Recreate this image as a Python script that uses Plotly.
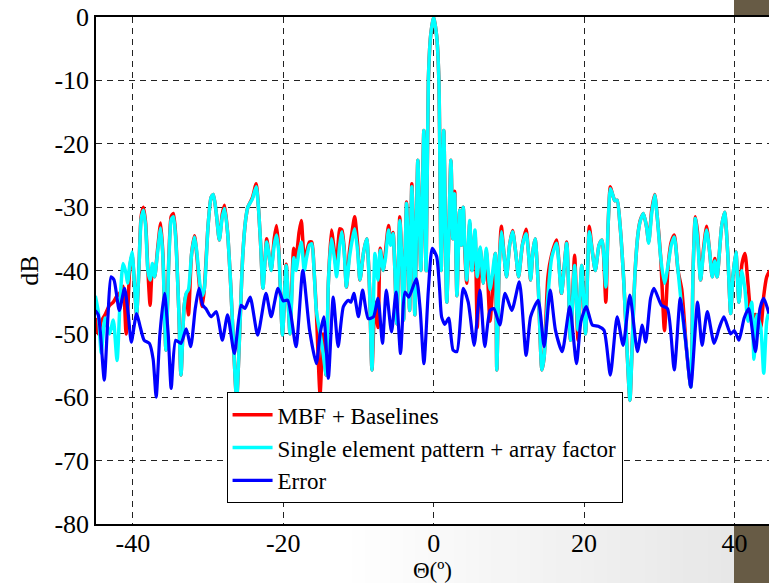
import plotly.graph_objects as go

# ---------------- data ----------------
theta_sp = [-45.0, -44.6, -44.2, -43.7, -43.1, -42.6, -42.1, -41.7, -41.3, -40.9, -40.7, -40.4, -40.1,
            -39.8, -39.5, -39.2, -38.9, -38.6, -38.3, -38.0, -37.7, -37.4, -37.1, -36.7, -36.3, -36.0,
            -35.6, -35.2, -34.9, -34.6, -34.3, -33.9, -33.6, -33.2, -32.9, -32.6, -32.2, -31.8, -31.5,
            -31.1, -30.8, -30.5, -30.0, -29.6, -29.3, -28.9, -28.5, -28.1, -27.8, -27.4, -27.0, -26.6,
            -26.2, -25.8, -25.4, -25.0, -24.7, -24.1, -23.6, -23.3, -23.0, -22.7, -22.2, -21.9, -21.6,
            -21.2, -20.9, -20.6, -20.1, -19.6, -19.1, -18.6, -18.3, -17.9, -17.6, -17.2, -16.9, -16.5,
            -16.2, -15.9, -15.6, -15.1, -14.7, -14.3, -14.0, -13.6, -13.2, -12.9, -12.5, -12.2, -11.9,
            -11.6, -11.2, -10.8, -10.5, -10.1, -9.8, -9.3, -8.9, -8.55, -8.2, -7.8, -7.4, -7.1, -6.7,
            -6.4, -6.0, -5.7, -5.4, -5.15, -4.9, -4.5, -4.25, -4.0, -3.6, -3.4, -3.2, -2.9, -2.7, -2.5,
            -2.1, -1.7, -1.3, -1.0, -0.7, -0.4, 0.0, 0.4, 0.7, 1.0, 1.35, 1.75, 2.3, 2.55, 2.8, 3.1,
            3.45, 3.7, 3.94, 4.15, 4.4, 4.8, 5.1, 5.5, 5.8, 6.2, 6.6, 7.0, 7.5, 8.2, 8.4, 8.7, 9.0, 9.4,
            9.7, 10.1, 10.5, 10.9, 11.3, 11.8, 12.3, 12.6, 12.9, 13.2, 13.5, 13.9, 14.4, 14.7, 15.2,
            15.7, 16.35, 17.0, 17.7, 18.2, 18.75, 19.2, 19.7, 20.2, 20.7, 21.1, 21.5, 22.0, 22.4, 22.9,
            23.2, 23.5, 23.8, 24.1, 24.4, 24.8, 25.3, 25.7, 26.1, 26.4, 26.8, 27.2, 27.5, 27.9, 28.3,
            28.6, 29.0, 29.4, 29.7, 30.2, 30.7, 31.2, 31.6, 32.0, 32.5, 33.0, 33.6, 34.2, 34.5, 34.8,
            35.1, 35.5, 35.9, 36.3, 36.7, 37.05, 37.4, 37.7, 38.3, 38.7, 39.1, 39.5, 39.8, 40.2, 40.6,
            41.0, 41.4, 41.8, 42.3, 42.6, 43.0, 43.5, 43.9, 44.3, 44.7]

single_element = [-44.0, -46.5, -53.0, -47.5, -50.0, -47.8, -54.2, -45.0, -38.9, -40.5, -42.0, -39.0, -37.1,
                  -42.0, -47.0, -40.0, -32.0, -30.5, -33.0, -40.0, -41.5, -38.9, -41.0, -37.0, -33.3, -38.0,
                  -52.6, -38.0, -32.0, -31.5, -35.0, -46.0, -56.5, -46.0, -43.6, -43.0, -37.5, -34.7, -37.0,
                  -42.0, -44.0, -43.0, -33.0, -28.5, -28.0, -31.0, -35.2, -31.5, -30.2, -34.0, -42.0, -52.0,
                  -60.5, -50.0, -38.0, -32.0, -30.0, -28.7, -26.8, -30.0, -36.0, -42.8, -35.5, -37.5, -40.0,
                  -36.0, -34.4, -37.0, -50.2, -39.2, -50.0, -38.0, -40.0, -37.0, -35.5, -40.0, -38.0, -36.0,
                  -35.8, -40.0, -46.3, -50.0, -53.0, -56.5, -42.0, -35.0, -38.0, -41.0, -36.0, -33.9, -37.0,
                  -42.6, -38.0, -35.0, -33.4, -37.0, -41.5, -37.0, -35.0, -42.0, -55.7, -37.3, -41.5, -36.8, -40.0,
                  -38.0, -33.6, -36.0, -34.2, -40.0, -48.4, -32.1, -38.0, -47.8, -29.4, -36.0, -46.3, -26.8, -34.0, -47.0,
                  -22.6, -40.0, -17.9, -40.0, -10.0, -3.0, 0.0, -3.0, -10.0, -40.0, -17.9, -45.0, -22.6, -35.0, -27.9, -44.0,
                  -30.5, -36.0, -30.0, -36.0, -41.5, -32.1, -40.0, -33.6, -41.0, -36.3, -42.0, -36.5, -43.0, -37.3, -55.7, -40.0, -33.9, -38.0,
                  -41.0, -36.0, -33.9, -37.0, -41.0, -36.0, -34.2, -37.0, -41.5, -37.0, -35.0, -42.0, -55.7, -53.6, -44.0,
                  -38.0, -35.7, -43.6, -35.7, -51.0, -39.2, -49.4, -39.2, -50.0, -33.9, -37.0, -40.0, -36.0, -35.2, -42.6,
                  -33.0, -27.1, -28.0, -29.0, -28.9, -33.0, -42.0, -52.0, -60.5, -52.0, -40.0, -34.0, -32.1, -31.0, -33.0,
                  -35.7, -31.0, -28.1, -31.0, -38.0, -42.0, -39.0, -36.0, -34.7, -40.0, -46.0, -52.0, -58.4, -40.0, -31.8,
                  -35.0, -41.5, -37.0, -33.6, -37.0, -41.0, -38.5, -41.0, -33.0, -30.8, -37.0, -46.8, -41.0, -37.1, -45.0,
                  -40.0, -43.0, -48.0, -45.0, -54.0, -47.0, -49.0, -56.2, -48.0, -46.0]

mbf_baselines = [-47.5, -50.0, -48.0, -47.0, -45.5, -45.0, -44.0, -43.5, -42.5, -50.0, -47.0, -39.5, -37.5,
                 -42.0, -47.0, -40.0, -31.5, -30.0, -32.5, -40.0, -45.5, -39.5, -41.0, -36.5, -32.5, -37.5,
                 -52.6, -37.5, -31.5, -31.0, -34.5, -46.0, -56.5, -46.0, -43.6, -47.0, -37.5, -34.5, -37.5,
                 -43.0, -45.7, -43.0, -33.0, -28.5, -28.0, -31.0, -35.2, -31.0, -29.7, -34.0, -42.0, -52.0,
                 -60.5, -50.0, -38.0, -32.0, -30.0, -28.5, -26.3, -30.0, -36.0, -42.8, -35.0, -37.5, -40.0,
                 -35.0, -32.9, -36.5, -50.2, -39.0, -50.0, -36.5, -38.0, -34.0, -32.1, -38.0, -37.0, -35.5,
                 -35.5, -40.0, -46.3, -59.5, -50.0, -56.5, -42.0, -33.6, -37.0, -40.0, -33.4, -33.6, -36.5,
                 -42.6, -37.0, -33.5, -31.5, -36.0, -41.5, -37.0, -35.0, -42.0, -55.7, -45.0, -49.0, -36.5, -40.0,
                 -37.0, -32.9, -35.5, -34.0, -40.0, -48.4, -31.5, -38.0, -47.8, -29.2, -36.0, -46.3, -26.3, -34.0, -47.0,
                 -22.6, -40.0, -17.9, -40.0, -10.0, -3.0, 0.0, -3.0, -10.0, -40.0, -17.9, -45.0, -22.6, -35.0, -27.5, -44.0,
                 -30.5, -36.0, -30.0, -37.0, -42.0, -32.5, -40.0, -34.0, -49.0, -36.5, -42.0, -37.0, -48.0, -37.3, -55.7, -40.0, -33.0, -38.0,
                 -41.0, -36.0, -33.7, -37.0, -41.0, -36.0, -33.5, -37.0, -41.5, -37.0, -35.0, -42.0, -55.7, -53.6, -41.0,
                 -37.5, -35.2, -43.6, -35.5, -51.0, -37.6, -51.0, -39.2, -50.0, -33.0, -37.0, -40.0, -36.0, -35.2, -45.0,
                 -33.0, -26.8, -28.0, -29.0, -28.9, -33.0, -42.0, -52.0, -60.5, -52.0, -40.0, -34.0, -32.0, -31.0, -33.0,
                 -35.5, -30.5, -28.0, -31.0, -38.0, -49.5, -39.0, -35.5, -34.4, -40.0, -43.0, -52.0, -58.4, -40.0, -31.5,
                 -34.0, -41.5, -36.5, -33.0, -37.0, -41.0, -38.1, -41.0, -33.0, -30.8, -37.0, -46.8, -41.0, -37.1, -45.0,
                 -39.0, -37.3, -42.0, -48.0, -47.0, -47.0, -49.0, -44.0, -41.0, -40.0]

theta_err = [-45.0, -44.6, -44.3, -43.8, -43.3, -42.9, -42.5, -41.8, -41.1, -40.6, -40.2, -39.5, -39.0,
             -38.5, -37.8, -37.3, -36.9, -36.4, -35.8, -35.3, -34.9, -34.3, -33.6, -32.9, -32.3, -31.7,
             -31.2, -30.7, -30.3, -29.6, -28.9, -28.1, -27.4, -26.5, -25.6, -25.1, -24.4, -23.4, -22.3,
             -21.6, -20.7, -20.0, -19.4, -18.3, -17.4, -16.5, -15.6, -15.1, -14.6, -14.0, -13.35, -12.7,
             -12.0, -11.35, -11.0, -10.6, -10.0, -9.45, -8.7, -8.0, -7.4, -6.8, -6.3, -5.6, -5.0, -4.4,
             -3.8, -3.3, -2.3, -1.8, -1.29, -0.7, -0.18, 0.4, 0.8, 1.06, 1.5, 2.0, 2.6, 3.1, 3.94, 4.6,
             5.4, 6.16, 6.8, 7.5, 8.0, 8.8, 9.5, 10.4, 11.4, 12.3, 12.9, 13.9, 14.7, 15.5, 16.2, 17.1,
             18.1, 19.0, 19.6, 20.3, 21.1, 21.9, 22.65, 23.5, 24.4, 25.2, 26.1, 27.1, 27.75, 28.2, 28.85,
             29.3, 30.3, 31.1, 32.0, 32.8, 33.5, 34.2, 35.1, 35.7, 36.4, 37.3, 38.0, 38.6, 39.5, 40.0,
             40.6, 41.3, 41.9, 42.8, 43.4, 43.9, 44.6]

error_db = [-46.3, -47.0, -50.0, -57.3, -47.0, -41.0, -41.5, -46.3, -42.8, -47.0, -51.3, -46.8, -49.0,
            -51.0, -51.5, -54.0, -60.0, -50.0, -43.6, -50.0, -58.6, -51.0, -51.5, -49.2, -52.0, -46.0,
            -42.8, -45.5, -46.0, -47.3, -46.5, -51.0, -47.0, -53.1, -45.5, -46.0, -44.2, -50.2, -43.6,
            -47.3, -42.8, -44.8, -44.7, -52.0, -40.0, -49.4, -54.7, -50.0, -47.3, -57.0, -44.2, -52.0,
            -45.7, -44.7, -45.0, -43.6, -47.3, -43.1, -47.6, -47.3, -44.4, -51.5, -43.1, -49.7, -43.4, -53.1,
            -43.4, -44.2, -41.3, -46.0, -54.7, -43.1, -36.5, -37.8, -43.0, -47.3, -48.5, -47.5, -52.6, -52.8, -42.8, -45.0,
            -51.8, -43.1, -52.0, -46.3, -46.0, -48.6, -43.6, -46.3, -41.8, -53.4, -47.3, -44.7, -52.0, -43.1, -49.4, -52.8,
            -45.7, -54.7, -48.0, -45.7, -48.6, -48.8, -49.4, -56.5, -47.3, -51.8, -43.9, -52.8, -48.6, -51.3, -44.4,
            -42.8, -45.5, -46.0, -55.7, -44.4, -51.0, -58.4, -45.0, -51.8, -46.5, -51.5, -49.0, -47.3, -50.0, -49.5,
            -51.0, -47.5, -46.0, -52.8, -46.0, -44.4, -46.8]

x_ticks = [-40, -20, 0, 20, 40]
y_ticks = [-80, -70, -60, -50, -40, -30, -20, -10, 0]

series_names = ["MBF + Baselines", "Single element pattern + array factor", "Error"]

# ---------------- figure ----------------
FONT = "Liberation Serif, Times New Roman, serif"

fig = go.Figure()
fig.add_trace(go.Scatter(x=theta_sp, y=mbf_baselines, mode="lines", name=series_names[0],
                         line=dict(color="#ff0000", width=3.5, shape="spline", smoothing=0.6)))
fig.add_trace(go.Scatter(x=theta_sp, y=single_element, mode="lines", name=series_names[1],
                         line=dict(color="#00ffff", width=3.5, shape="spline", smoothing=0.6)))
fig.add_trace(go.Scatter(x=theta_err, y=error_db, mode="lines", name=series_names[2],
                         line=dict(color="#0000ff", width=3.2, shape="spline", smoothing=0.6)))

shapes = []
# slide decoration: smooth light grey gradient under the plot and brown bar on the right
n = 30
for i in range(n):
    x0 = 0.38 + i * (0.948 - 0.38) / n
    x1 = 0.38 + (i + 1) * (0.948 - 0.38) / n + 0.002
    v = int(round(255 - 24 * (i + 1) / n))
    shapes.append(dict(type="rect", xref="paper", yref="paper", x0=x0, x1=x1, y0=-0.1164, y1=-0.003,
                       fillcolor=f"rgb({v},{v},{v})", line=dict(width=0), layer="below"))
shapes.append(dict(type="rect", xref="paper", yref="paper", x0=0.948, x1=1.0, y0=1.002, y1=1.04,
                   fillcolor="#675b45", line=dict(width=0), layer="below"))
shapes.append(dict(type="rect", xref="paper", yref="paper", x0=0.948, x1=1.0, y0=-0.12, y1=-0.003,
                   fillcolor="#675b45", line=dict(width=0), layer="below"))

fig.update_layout(
    width=769, height=583,
    margin=dict(l=96, r=0, t=17, b=59),
    paper_bgcolor="white", plot_bgcolor="white",
    font=dict(family=FONT, size=26, color="black"),
    showlegend=True,
    legend=dict(x=0.194, y=0.26, xanchor="left", yanchor="top",
                bgcolor="white", bordercolor="black", borderwidth=1,
                font=dict(family=FONT, size=23, color="black"),
                tracegroupgap=0, itemwidth=40),
    shapes=shapes,
)
fig.update_xaxes(range=[-44.9, 44.6], tickvals=x_ticks, ticktext=[str(v) for v in x_ticks],
                 showgrid=True, gridcolor="#222222", griddash="6px,5px", gridwidth=1,
                 zeroline=False, showline=True, linecolor="black", linewidth=1.5, mirror=True,
                 ticks="", ticklabelstandoff=-5, tickfont=dict(family=FONT, size=26, color="black"),
                 title=dict(text="Θ(º)", font=dict(family=FONT, size=23, color="black"), standoff=2))
fig.update_yaxes(range=[-80, 0], tickvals=y_ticks, ticktext=[str(v) for v in y_ticks],
                 showgrid=True, gridcolor="#222222", griddash="6px,5px", gridwidth=1,
                 zeroline=False, showline=True, linecolor="black", linewidth=1.5, mirror=False,
                 ticks="", tickfont=dict(family=FONT, size=26, color="black"),
                 title=dict(text="dB", font=dict(family=FONT, size=26, color="black"), standoff=8))

fig.write_html("out.html")
